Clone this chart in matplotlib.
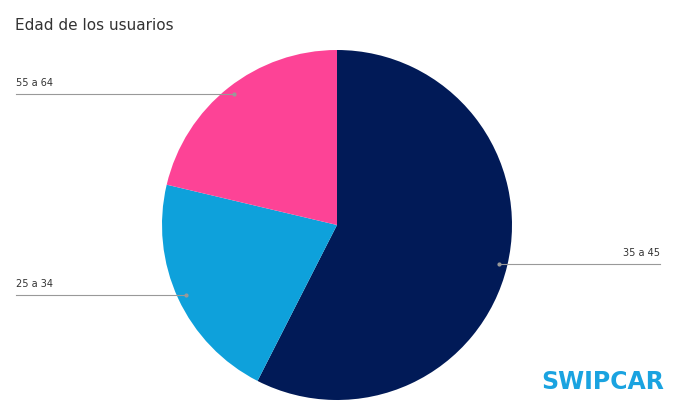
import matplotlib
matplotlib.use("Agg")
import matplotlib.pyplot as plt
from matplotlib.lines import Line2D

labels = ["35 a 45", "25 a 34", "55 a 64"]
values = [57.5, 21.2, 21.3]
colors = ["#011a57", "#0ea1db", "#fd4396"]

W, H = 694, 418
fig = plt.figure(figsize=(6.94, 4.18), dpi=100)
cx, cy, r = 337, 225, 175
ax = fig.add_axes([(cx - r) / W, 1 - (cy + r) / H, 2 * r / W, 2 * r / H])
ax.pie(values, colors=colors, startangle=90, counterclock=False,
       wedgeprops=dict(linewidth=0))
ax.set_aspect("equal")
ax.set_xlim(-1, 1); ax.set_ylim(-1, 1)

fig.text(15 / W, 1 - 25 / H, "Edad de los usuarios", fontsize=11, color="#333333",
         va="center", ha="left")

def px(x, y):
    return x / W, 1 - y / H

# leader lines: (label, text pos, line from, line to)
leaders = [
    ("55 a 64", (16, 88), (16, 94), (234, 94), "left"),
    ("25 a 34", (16, 289), (16, 295), (186, 295), "left"),
    ("35 a 45", (660, 258), (660, 264), (499, 264), "right"),
]
for lab, tp, a, b, ha in leaders:
    x0, y0 = px(*a); x1, y1 = px(*b)
    fig.add_artist(Line2D([x0, x1], [y0, y1], color="#999999", lw=0.8))
    fig.add_artist(Line2D([x1], [y1], marker="o", ms=2, color="#999999"))
    tx, ty = px(*tp)
    fig.text(tx, ty, lab, fontsize=7, color="#333333", ha=ha, va="bottom")

fig.text(603 / W, 1 - 382 / H, "SWIPCAR", fontsize=17, fontweight="bold",
         color="#1aa3e0", ha="center", va="center")

fig.savefig("out.png", dpi=100)
